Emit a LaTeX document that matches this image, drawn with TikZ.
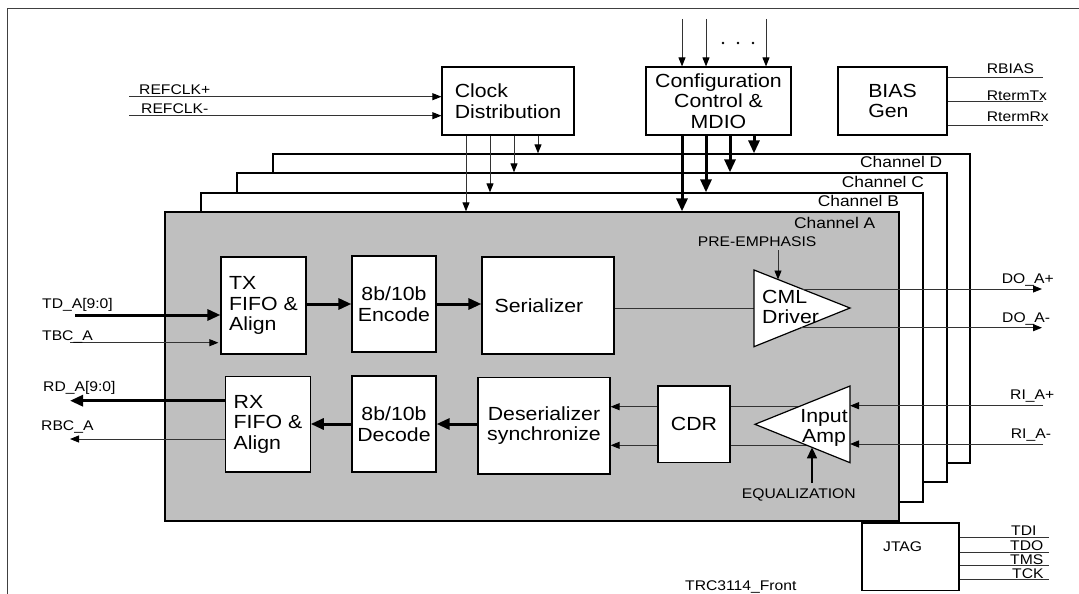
\documentclass[tikz,border=0pt]{standalone}
\usepackage{fontspec}
\setmainfont{Liberation Sans}[FakeStretch=1.12]
\usetikzlibrary{arrows.meta,calc}
\newcommand{\fbig}{\fontsize{19}{20.5}\selectfont}
\newcommand{\fsmall}{\fontsize{14}{16}\selectfont}
\newcommand{\fchan}{\fontsize{15.5}{17}\selectfont}
\begin{document}
\begin{tikzpicture}[x=1pt,y=-1pt,
  blk/.style={draw, line width=1.2pt, fill=white, inner sep=0pt, align=left, font=\fbig},
  chan/.style={draw, line width=1.3pt, fill=white, inner sep=0pt},
  sig/.style={line width=0.9pt, draw=black!80},
  sigarr/.style={sig, -{Triangle[length=9pt,width=7pt,color=black]}},
  bus/.style={line width=3pt, -{Triangle[length=13pt,width=11pt]}},
  lbl/.style={anchor=base west, inner sep=0pt, font=\fsmall},
  chlbl/.style={anchor=base west, inner sep=0pt, font=\fchan},
  tri/.style={draw, line width=1.2pt, fill=white, line join=miter}]
\useasboundingbox (0,0) rectangle (1079,594);
% outer frame
\draw[line width=1pt, black!75] (7,594) -- (7,9) -- (1079,9);

% channel stack
\node[chan, minimum width=697pt, minimum height=309pt] (chD) at (621.5,308.5) {};
\node[chan, minimum width=710pt, minimum height=309pt] (chC) at (592,327.5) {};
\node[chan, minimum width=722pt, minimum height=309pt] (chB) at (562,347.5) {};
\node[chan, fill=black!25, minimum width=734pt, minimum height=309pt] (chA) at (532,366.5) {};
\node[chlbl] (lD) at (860,167.3) {Channel D};
\node[chlbl] (lC) at (841.7,187.3) {Channel C};
\node[chlbl] (lB) at (817.7,206) {Channel B};
\node[chlbl] (lA) at (794,228.3) {Channel A};

% top blocks
\node[blk, minimum width=132pt, minimum height=68pt] (clk) at (508,101) {Clock\\Distribution};
\node[blk, align=center, minimum width=145pt, minimum height=68pt] (cfg) at (718.5,101) {Configuration\\Control \&\\MDIO\hspace*{0pt}};
\node[blk, minimum width=109pt, minimum height=68pt] (bias) at (892.5,101) {BIAS\\Gen};

% REFCLK
\coordinate (rp) at (129,96.7);
\coordinate (rm) at (129,115.7);
\draw[sigarr] (rp) -- (rp -| clk.west);
\draw[sigarr] (rm) -- (rm -| clk.west);
\node[lbl] (lrp) at (139,94) {REFCLK+};
\node[lbl] (lrm) at (141,113) {REFCLK-};

% clock distribution arrows
\coordinate (k1) at (466,0); \coordinate (k2) at (490,0);
\coordinate (k3) at (514,0); \coordinate (k4) at (538,0);
\draw[sigarr] (k1 |- clk.south) -- (k1 |- chA.north);
\draw[sigarr] (k2 |- clk.south) -- (k2 |- chB.north);
\draw[sigarr] (k3 |- clk.south) -- (k3 |- chC.north);
\draw[sigarr] (k4 |- clk.south) -- (k4 |- chD.north);

% config inputs
\coordinate (i1) at (682,19); \coordinate (i2) at (706,19); \coordinate (i3) at (766,19);
\draw[sigarr] (i1) -- (i1 |- cfg.north);
\draw[sigarr] (i2) -- (i2 |- cfg.north);
\draw[sigarr] (i3) -- (i3 |- cfg.north);
\fill (723,43) circle (1.3pt) (738,43) circle (1.3pt) (753,43) circle (1.3pt);

% config buses
\coordinate (m1) at (682,0); \coordinate (m2) at (706,0);
\coordinate (m3) at (730,0); \coordinate (m4) at (754,0);
\draw[bus] (m1 |- cfg.south) -- (m1 |- chA.north);
\draw[bus] (m2 |- cfg.south) -- (m2 |- chB.north);
\draw[bus] (m3 |- cfg.south) -- (m3 |- chC.north);
\draw[bus] (m4 |- cfg.south) -- (m4 |- chD.north);

% bias outputs
\coordinate (b1) at (1043,77); \coordinate (b2) at (1043,101.7); \coordinate (b3) at (1043,125.7);
\draw[sig] (b1 -| bias.east) -- (b1);
\draw[sig] (b2 -| bias.east) -- (b2);
\draw[sig] (b3 -| bias.east) -- (b3);
\node[lbl] (lb1) at (986.7,74) {RBIAS};
\node[lbl] (lb2) at (986.7,100) {RtermTx};
\node[lbl] (lb3) at (986.7,121.7) {RtermRx};

% TX path
\node[blk, minimum width=85pt, minimum height=97pt] (txf) at (263.5,305.5) {TX\\FIFO \&\\Align};
\node[blk, align=center, minimum width=84pt, minimum height=96pt] (enc) at (394,304) {8b/10b\\Encode};
\node[blk, minimum width=132pt, minimum height=97pt] (ser) at (548,305.5) {Serializer\hspace*{18pt}};

\coordinate (td) at (75,315);
\coordinate (tb) at (70,342.7);
\draw[bus] (td) -- (td -| txf.west);
\draw[sigarr, shorten >=2pt] (tb) -- (tb -| txf.west);
\node[lbl] (ltd) at (42,308) {TD\_A[9:0]};
\node[lbl] (ltb) at (42,340.7) {TBC\_A};
\coordinate (te) at (0,304);
\draw[bus] (te -| txf.east) -- (te -| enc.west);
\draw[bus] (te -| enc.east) -- (te -| ser.west);

% CML driver
\coordinate (cT) at (754,270); \coordinate (cB) at (754,346.7); \coordinate (cP) at (850,308);
\draw[sig] (ser.east |- 0,308) -- (754,308);
\draw[tri] (cT) -- (cP) -- (cB) -- cycle;
\node[font=\fbig, align=left, anchor=west, inner sep=0pt] (cml) at (762,307) {CML\\Driver};
\coordinate (pe) at (778,250); \coordinate (peE) at (778,279.5);
\draw[sigarr] (pe) -- (peE);
\node[lbl] (lpe) at (697.7,246.7) {PRE-EMPHASIS};
\coordinate (dp0) at (802,289); \coordinate (dp1) at (1042,289);
\coordinate (dm0) at (801,327.7); \coordinate (dm1) at (1042,327.7);
\draw[sigarr] (dp0) -- (dp1);
\draw[sigarr] (dm0) -- (dm1);
\node[lbl] (ldp) at (1001.7,283.3) {DO\_A+};
\node[lbl] (ldm) at (1002,322.7) {DO\_A-};

% RX path
\node[blk, minimum width=84.3pt, minimum height=95.3pt] (rxf) at (268,424.3) {RX\\FIFO \&\\Align};
\node[blk, align=center, minimum width=84pt, minimum height=96pt] (dec) at (394,424) {8b/10b\\Decode};
\node[blk, align=center, minimum width=132pt, minimum height=96.3pt] (des) at (544,425.8) {Deserializer\\synchronize};
\node[blk, minimum width=72pt, minimum height=76.7pt] (cdr) at (694,424.3) {CDR};

\coordinate (re) at (0,424);
\draw[bus] (re -| des.west) -- (re -| dec.east);
\draw[bus] (re -| dec.west) -- (re -| rxf.east);
\coordinate (rd) at (70,400.7);
\coordinate (rb) at (70,439);
\draw[bus] (rd -| rxf.west) -- (rd);
\draw[sigarr] (rb -| rxf.west) -- (rb);
\node[lbl] (lrd) at (43,391.7) {RD\_A[9:0]};
\node[lbl] (lrb) at (41,430.7) {RBC\_A};

\coordinate (y1) at (0,406.7); \coordinate (y2) at (0,445.3);
\draw[sigarr] (y1 -| cdr.west) -- (y1 -| des.east);
\draw[sigarr] (y2 -| cdr.west) -- (y2 -| des.east);

% input amp
\coordinate (aP) at (755,424.3); \coordinate (aT) at (850,386); \coordinate (aB) at (850,462.7);
\draw[sig] (y1 -| cdr.east) -- (y1 -| aT);
\draw[sig] (y2 -| cdr.east) -- (y2 -| aT);
\draw[tri] (aP) -- (aT) -- (aB) -- cycle;
\node[font=\fbig, align=center, inner sep=0pt] (amp) at (824,428) {Input\\Amp};
\coordinate (ri1) at (1043,405.7); \coordinate (ri2) at (1043,444);
\draw[sigarr] (ri1) -- (ri1 -| aT);
\draw[sigarr] (ri2) -- (ri2 -| aT);
\node[lbl] (lri1) at (1010,399.3) {RI\_A+};
\node[lbl] (lri2) at (1010.7,438.3) {RI\_A-};
\coordinate (eq) at (812,483); \coordinate (eqE) at (812,447.4);
\draw[line width=1.5pt, -{Triangle[length=11pt,width=10pt]}] (eq) -- (eqE);
\node[lbl] (leq) at (741.7,498.7) {EQUALIZATION};

% JTAG
\node[blk, minimum width=97pt, minimum height=67.7pt] (jtag) at (910.5,556.8) {};
\node[lbl] (ljt) at (883,551.7) {JTAG};
\coordinate (j1) at (1049,537.3); \coordinate (j2) at (1049,552.3);
\coordinate (j3) at (1049,565); \coordinate (j4) at (1049,579);
\draw[sig] (j1 -| jtag.east) -- (j1);
\draw[sig] (j2 -| jtag.east) -- (j2);
\draw[sig] (j3 -| jtag.east) -- (j3);
\draw[sig] (j4 -| jtag.east) -- (j4);
\node[lbl] (ltdi) at (1011,535) {TDI};
\node[lbl] (ltdo) at (1010,550.7) {TDO};
\node[lbl] (ltms) at (1010,564) {TMS};
\node[lbl] (ltck) at (1012,578.3) {TCK};

\node[lbl] (ltrc) at (685,590) {TRC3114\_Front};
\end{tikzpicture}
\end{document}
